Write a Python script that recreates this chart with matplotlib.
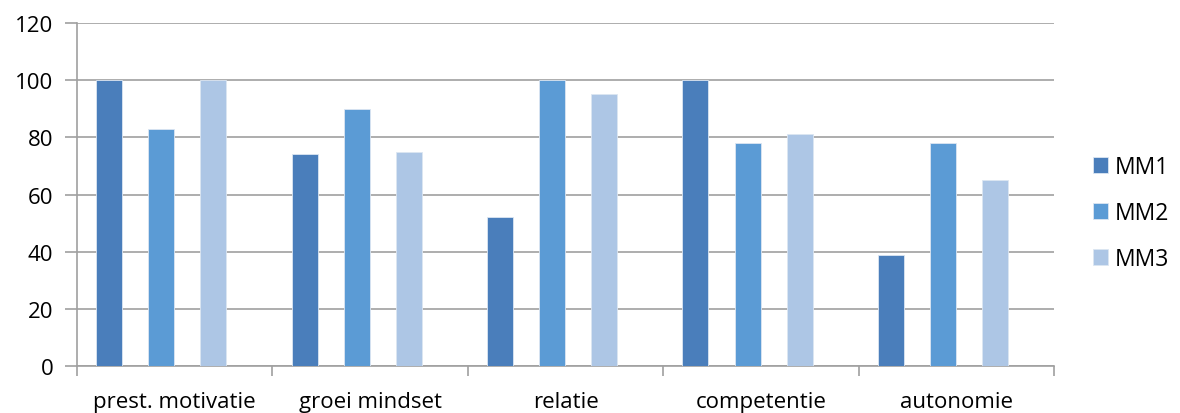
import numpy as np
import matplotlib.pyplot as plt
from matplotlib.ticker import FixedLocator

plt.rcParams['font.family'] = ['Open Sans', 'DejaVu Sans']

categories = ['prest. motivatie', 'groei mindset', 'relatie', 'competentie', 'autonomie']
mm1 = [100, 74, 52, 100, 39]
mm2 = [83, 90, 100, 78, 78]
mm3 = [100, 75, 95, 81, 65]
series = [('MM1', mm1, '#4a7ebb'), ('MM2', mm2, '#5b9bd5'), ('MM3', mm3, '#adc6e5')]

fig = plt.figure(figsize=(11.8, 4.14), dpi=100)
ax = fig.add_axes([0.0653, 0.1135, 0.8279, 0.8285])

x = np.arange(len(categories))
width = 0.133
offsets = [-0.335, -0.068, 0.198]
for (name, vals, col), off in zip(series, offsets):
    ax.bar(x + off, vals, width, color=col, edgecolor='#dce6f2', linewidth=0.6,
           label=name, zorder=3)

ax.set_xlim(-0.5, len(categories) - 0.5)
ax.set_ylim(0, 120)
ax.set_yticks(range(0, 121, 20))
ax.yaxis.grid(True, color='#a0a0a0', linewidth=1.2, zorder=0)
ax.set_axisbelow(True)

fs = 16
ax.set_xticks(x)
ax.set_xticklabels(categories)
ax.xaxis.set_minor_locator(FixedLocator(np.arange(-0.5, len(categories), 1)))
ax.tick_params(axis='x', which='major', length=0, pad=18, labelsize=fs)
ax.tick_params(axis='x', which='minor', length=7, width=1.2, color='#a0a0a0')
ax.tick_params(axis='y', length=9, width=1.2, color='#a0a0a0', pad=8, labelsize=fs)

for side in ['top', 'right']:
    ax.spines[side].set_visible(False)
for side in ['left', 'bottom']:
    ax.spines[side].set_color('#a0a0a0')
    ax.spines[side].set_linewidth(1.2)

ax.legend(loc='center left', bbox_to_anchor=(1093 / 1180, 1 - 214 / 414),
          bbox_transform=fig.transFigure, frameon=False,
          fontsize=16.5, handlelength=0.65, handleheight=0.7,
          labelspacing=0.95, handletextpad=0.3, borderaxespad=0, borderpad=0)

fig.savefig('out.png', dpi=100)
